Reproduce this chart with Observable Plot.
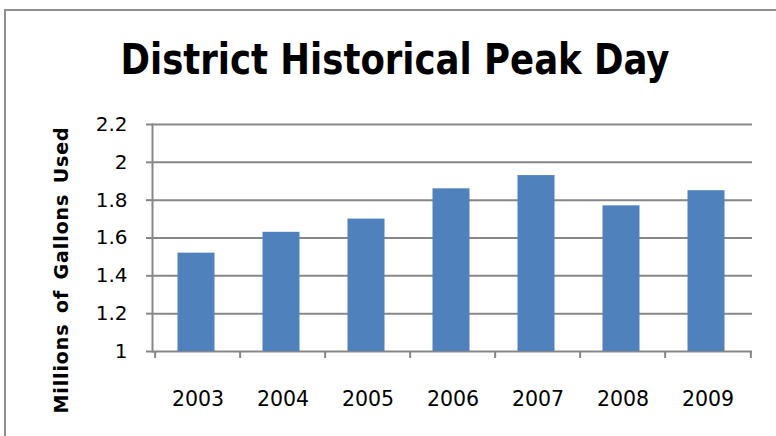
<!DOCTYPE html>
<html>
<head>
<meta charset="utf-8">
<script src="https://cdn.jsdelivr.net/npm/d3@7"></script>
<script src="https://cdn.jsdelivr.net/npm/@observablehq/plot@0.6"></script>
<style>
  html, body { margin: 0; padding: 0; background: #fff; }
  #wrap { position: relative; width: 776px; height: 436px; overflow: hidden; background: #fff; }
  #border { position: absolute; left: 4px; top: 9px; width: 800px; height: 500px; border: 2px solid #8f8f8f; box-sizing: border-box; }
  #title { position: absolute; left: 0; top: 35px; width: 790px; text-align: center;
           font-family: "DejaVu Sans Condensed", "DejaVu Sans", sans-serif;
           font-weight: bold; font-size: 42px; line-height: 50px; color: #000;
           transform: scaleX(0.94); transform-origin: 395px 0; }
  #ylabel { position: absolute; left: 61px; top: 270px; width: 0; height: 0; }
  #ylabel span { position: absolute; left: 0; top: 0; white-space: nowrap;
           transform: translate(-50%, -50%) rotate(-90deg);
           font-family: "DejaVu Sans", sans-serif; font-weight: bold; font-size: 19px;
           letter-spacing: 0.9px; word-spacing: 3px; color: #000; }
  #chart { position: absolute; left: 0; top: 100px; }
  #chart svg { overflow: visible; }
</style>
</head>
<body>
<div id="wrap">
  <div id="border"></div>
  <div id="title">District Historical Peak Day</div>
  <div id="chart"></div>
  <div id="ylabel"><span id="ylabeltext"></span></div>
</div>
<script>
const years = ["2003", "2004", "2005", "2006", "2007", "2008", "2009"];
const peakDay = [1.52, 1.63, 1.70, 1.86, 1.93, 1.77, 1.85];
const yTicks = [1, 1.2, 1.4, 1.6, 1.8, 2, 2.2];
const yLabel = "Millions of Gallons Used";

const data = years.map((y, i) => ({year: y, value: peakDay[i]}));

const W = 776, H = 336, mL = 152, mR = 24, mT = 24, mB = 85;
const step = (W - mL - mR) / years.length;
const grey = "#878787";
const font = "DejaVu Sans, sans-serif";

const chart = Plot.plot({
  width: W, height: H,
  marginLeft: mL, marginRight: mR, marginTop: mT, marginBottom: mB,
  style: {fontFamily: font, background: "transparent", color: "#000"},
  x: {domain: years, paddingInner: 0.57, paddingOuter: 0.285, label: null},
  y: {domain: [1, 2.2], label: null},
  marks: [
    Plot.gridY(yTicks, {stroke: grey, strokeOpacity: 1, strokeWidth: 2}),
    Plot.barY(data, {x: "year", y1: () => 1, y2: "value", fill: "#4F81BD", dx: -1.5}),
    Plot.frame({anchor: "left", stroke: grey, strokeWidth: 2}),
    Plot.ruleX(years, {x: d => d, y1: () => 1, y2: () => 1, insetBottom: -7, dx: -step / 2, stroke: grey, strokeWidth: 2}),
    Plot.ruleX([years[years.length - 1]], {x: d => d, y1: () => 1, y2: () => 1, insetBottom: -7, dx: step / 2, stroke: grey, strokeWidth: 2}),
    Plot.axisY(yTicks, {tickSize: 6, tickPadding: 19, fontSize: 20, stroke: grey, strokeWidth: 2, label: null, tickFormat: d => String(d), fill: "#000"}),
    Plot.axisX({tickSize: 0, tickPadding: 40, fontSize: 20.5, label: null, fill: "#000"})
  ]
});
document.getElementById("chart").appendChild(chart);
document.getElementById("ylabeltext").textContent = yLabel;
</script>
</body>
</html>
